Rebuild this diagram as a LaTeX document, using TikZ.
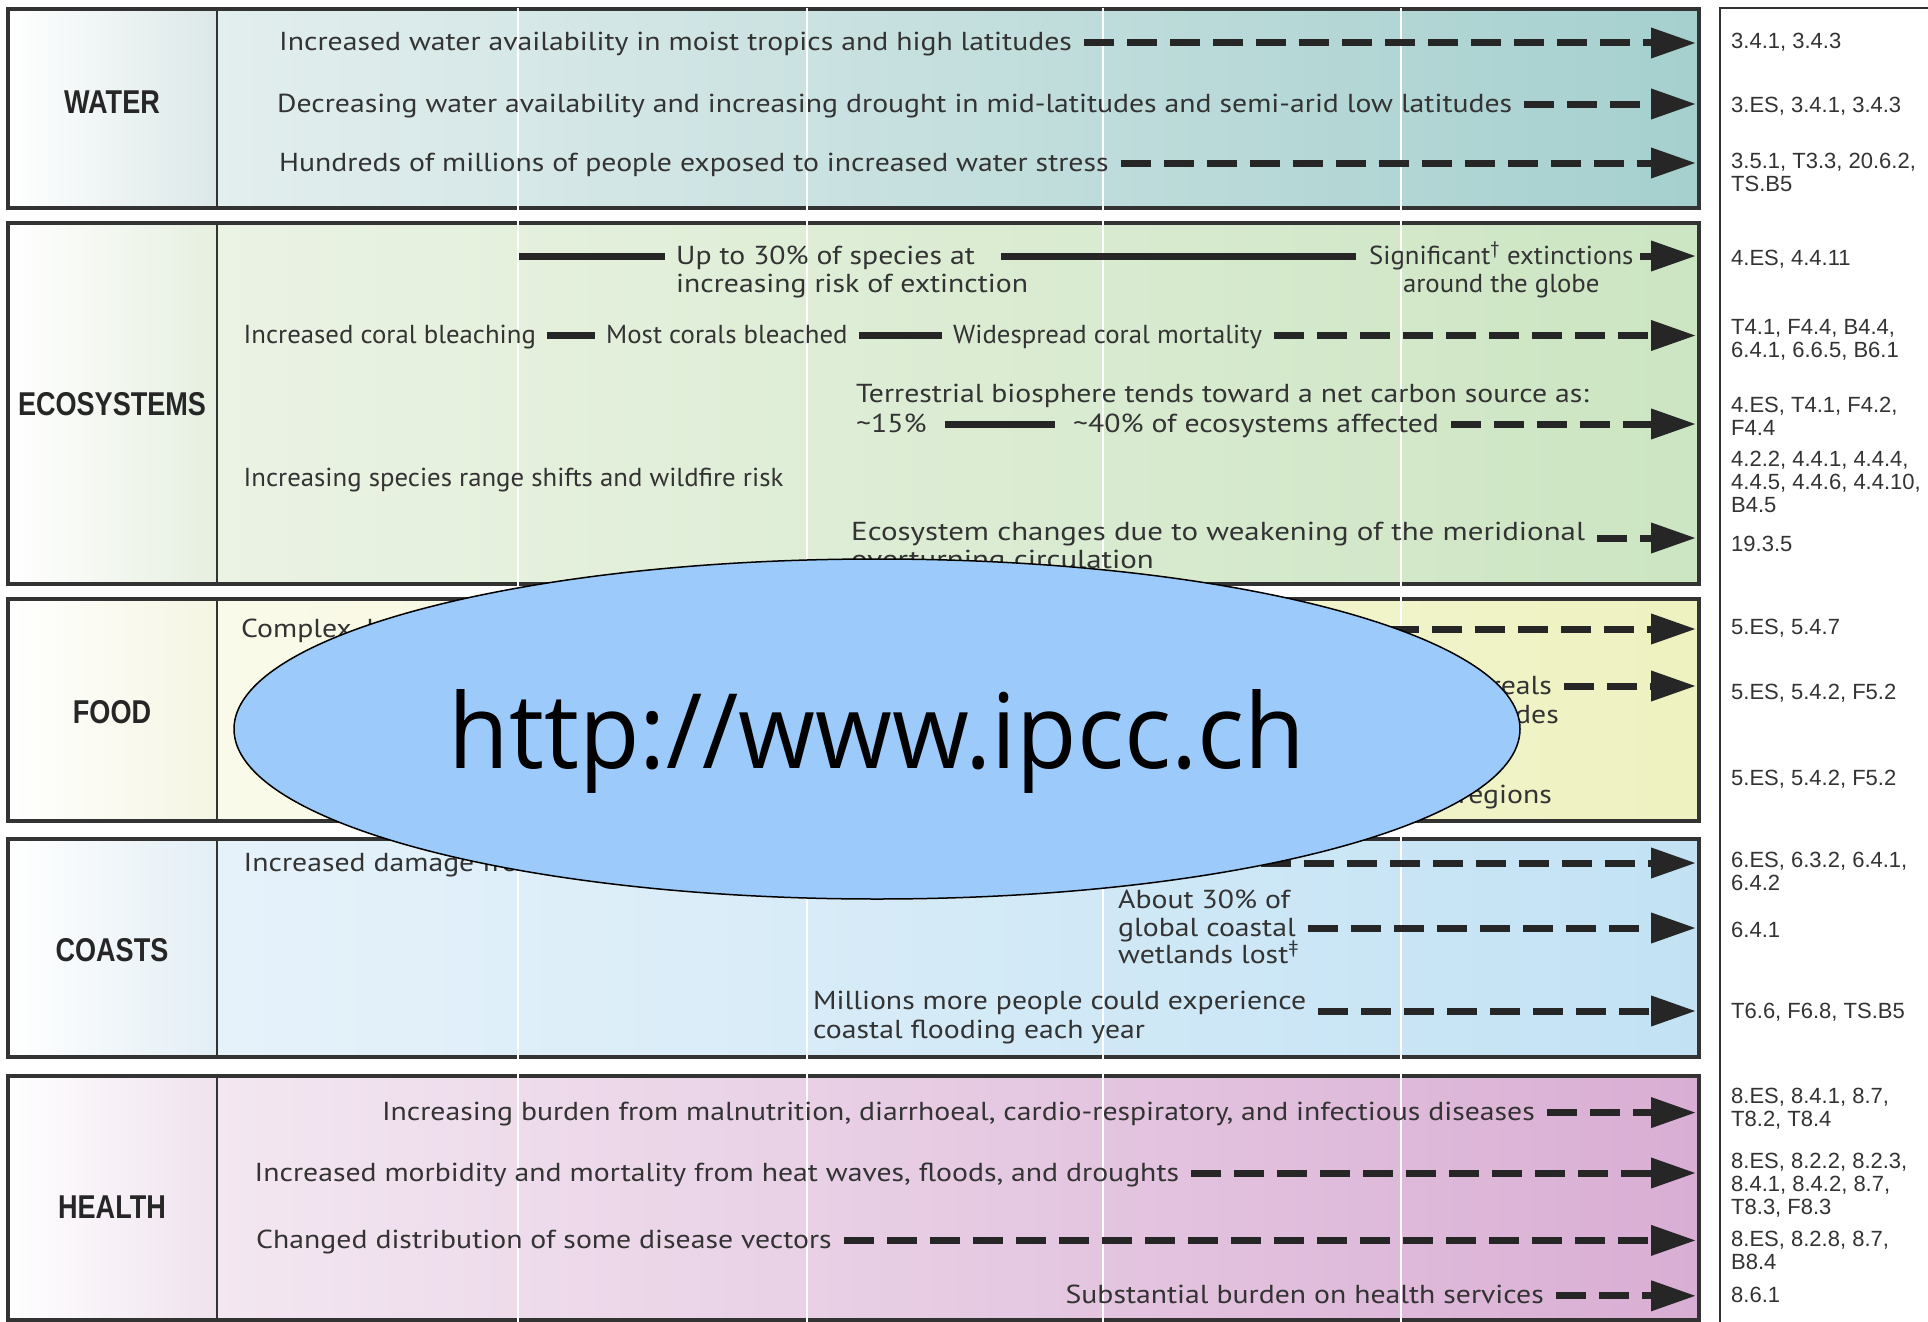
\documentclass[tikz,border=0pt]{standalone}
\usepackage{fontspec}
\usetikzlibrary{arrows.meta,positioning,shapes.geometric}
\newfontfamily\bodyfont[FakeStretch=1.144]{PT Sans}
\newfontfamily\condfont[FakeStretch=1.03]{PT Sans}
\newfontfamily\reffont{Liberation Sans}
\newfontfamily\labfont[FakeStretch=0.82]{Liberation Sans}
\newfontfamily\urlfont[FakeStretch=0.95]{Open Sans}

\begin{document}
\begin{tikzpicture}[x=1pt,y=-1pt,
  txt/.style={font=\bodyfont\fontsize{26}{29}\selectfont, text=black!80, inner sep=0pt, text height=21pt, text depth=5pt, anchor=west},
  ctxt/.style={txt, font=\condfont\fontsize{26}{29}\selectfont},
  reftxt/.style={font=\reffont\fontsize{22}{23}\selectfont, text=black!80, inner sep=0pt, anchor=north west, align=left},
  rowlab/.style={font=\labfont\bfseries\fontsize{33}{33}\selectfont, text=black!85, inner sep=0pt},
  dashto/.style={line width=7pt, draw=black!85, dash pattern=on 30pt off 13pt, shorten <=12pt, -{Triangle[length=45pt,width=29pt]}},
  solidto/.style={line width=7pt, draw=black!85, shorten <=11pt, shorten >=11pt},
  rowbox/.style={line width=3.5pt, draw=black!80},
  gridline/.style={line width=2.5pt, white},
  urlbox/.style={ellipse, draw=black, line width=1.5pt, fill=urlblue, minimum width=1286pt, minimum height=340pt, inner sep=0pt},
  urltxt/.style={font=\urlfont\fontsize{104}{104}\selectfont, inner sep=0pt, anchor=base},
]
\definecolor{watLab}{HTML}{DCE8E8}
\definecolor{watL}{HTML}{E3EEEE}
\definecolor{watR}{HTML}{A5D0CE}
\definecolor{ecoLab}{HTML}{E6EFE0}
\definecolor{ecoL}{HTML}{EBF3E4}
\definecolor{ecoR}{HTML}{CCE5C2}
\definecolor{foodLab}{HTML}{F5F5E3}
\definecolor{foodL}{HTML}{FAFAEA}
\definecolor{foodR}{HTML}{EEF2C0}
\definecolor{coastLab}{HTML}{E3EEF5}
\definecolor{coastL}{HTML}{E6F2FA}
\definecolor{coastR}{HTML}{C2E2F4}
\definecolor{healthLab}{HTML}{EFE2EE}
\definecolor{healthL}{HTML}{F3E7F1}
\definecolor{healthR}{HTML}{D9AED4}
\definecolor{urlblue}{HTML}{9CCBFB}

\useasboundingbox (0,0) rectangle (1928,1322);
\fill[white] (0,0) rectangle (1928,1322);

% rows: label box + shaded panel
\foreach \row/\top/\bot/\ly/\labc/\lc/\rc in {WATER/9/208/102/watLab/watL/watR, ECOSYSTEMS/223/584/404.5/ecoLab/ecoL/ecoR, FOOD/599/821/712/foodLab/foodL/foodR, COASTS/839/1057/950.5/coastLab/coastL/coastR, HEALTH/1076/1320/1207.5/healthLab/healthL/healthR}
  {
  \shade[left color=white, right color=\labc] (8,\top) rectangle (217,\bot);
  \shade[left color=\lc, right color=\rc] (217,\top) rectangle (1699,\bot);
  \draw[rowbox] (8,\top) rectangle (1699,\bot);
  \draw[line width=2.5pt, black!80] (217,\top) -- (217,\bot);
  \node[rowlab] (lab\row) at (112,\ly) {\row};
  }

% white time lines
\foreach \x in {518,807,1103,1401}
  \draw[gridline] (\x,8) -- (\x,1322);

% reference column
\draw[line width=2.5pt, black!80] (1928,8) -- (1720,8) -- (1720,1322);

\coordinate (tip) at (1696,0);

%%%% WATER
\node[txt] (w1) at (279,43) {Increased water availability in moist tropics and high latitudes};
\node[txt] (w2) at (277,104) {Decreasing water availability and increasing drought in mid-latitudes and semi-arid low latitudes};
\node[txt] (w3) at (279,163) {Hundreds of millions of people exposed to increased water stress};
\foreach \n in {w1,w2,w3}
  \draw[dashto] (\n.east) -- (\n.east -| tip);

%%%% ECOSYSTEMS
\coordinate (e1s) at (519,256);
\node[txt] (e1a) at (676,256) {Up to 30\% of species at};
\node[txt] (e1a2) at (676,284) {increasing risk of extinction};
\node[ctxt] (e1b) at (1369,256) {Significant\textsuperscript{\textdagger} extinctions};
\node[ctxt, anchor=center] (e1b2) at (e1b.center |- 0,284) {around the globe};
\draw[solidto, shorten <=0pt] (e1s) -- (e1a.west);
\draw[solidto, shorten <=26pt, shorten >=13pt] (e1a.east) -- (e1b.west);
\draw[dashto, shorten <=6pt] (e1b.east) -- (e1b.east -| tip);

\node[ctxt] (e2a) at (243.5,335.5) {Increased coral bleaching};
\node[ctxt] (e2b) at (606,335.5) {Most corals bleached};
\node[ctxt] (e2c) at (953,335.5) {Widespread coral mortality};
\draw[solidto] (e2a.east) -- (e2b.west);
\draw[solidto] (e2b.east) -- (e2c.west);
\draw[dashto] (e2c.east) -- (e2c.east -| tip);

\node[txt] (e3a) at (856,394.5) {Terrestrial biosphere tends toward a net carbon source as:};
\node[txt] (e3b) at (856,424) {\textasciitilde15\%};
\node[txt] (e3c) at (1073,424) {\textasciitilde40\% of ecosystems affected};
\draw[solidto, shorten <=18pt, shorten >=18pt] (e3b.east) -- (e3c.west);
\draw[dashto] (e3c.east) -- (e3c.east -| tip);

\node[ctxt] (e4) at (243.5,478) {Increasing species range shifts and wildfire risk};

\node[txt, xscale=1.04] (e5a) at (851,532) {Ecosystem changes due to weakening of the meridional};
\node[txt, xscale=1.04] (e5b) at (851,560.5) {overturning circulation};
\draw[dashto] ([yshift=-6pt]e5a.east) -- ([yshift=-6pt]e5a.east -| tip);

%%%% FOOD
\node[txt] (f1) at (241,629) {Complex, localised negative impacts on small holders, subsistence farmers and fishers};
\draw[dashto] (f1.east) -- (f1.east -| tip);
\node[txt, anchor=east] (f2a) at (1552,686) {Productivity of all cereals};
\node[txt, anchor=east] (f2b) at (1559,715) {decreases in low latitudes};
\draw[dashto] (f2a.east) -- (f2a.east -| tip);
\node[txt, anchor=east] (f3) at (1552,795) {decrease in some regions};

%%%% COASTS
\node[txt] (c1) at (243.5,863) {Increased damage from floods and storms};
\draw[dashto] (c1.east) -- (c1.east -| tip);
\node[txt] (c2a) at (1118,900) {About 30\% of};
\node[txt] (c2b) at (1118,928) {global coastal};
\node[txt] (c2c) at (1118,955) {wetlands lost\textsuperscript{\textdaggerdbl}};
\draw[dashto] (c2b.east) -- (c2b.east -| tip);
\node[txt] (c3a) at (813,1001) {Millions more people could experience};
\node[txt] (c3b) at (813,1030) {coastal flooding each year};
\draw[dashto] ([yshift=-10pt]c3a.east) -- ([yshift=-10pt]c3a.east -| tip);

%%%% HEALTH
\node[txt, anchor=east] (h1) at (1535,1112.6) {Increasing burden from malnutrition, diarrhoeal, cardio-respiratory, and infectious diseases};
\node[txt] (h2) at (254.5,1173) {Increased morbidity and mortality from heat waves, floods, and droughts};
\node[txt] (h3) at (256,1240.4) {Changed distribution of some disease vectors};
\node[txt, anchor=east] (h4) at (1544,1295.8) {Substantial burden on health services};
\foreach \n in {h1,h2,h3,h4}
  \draw[dashto] (\n.east) -- (\n.east -| tip);

%%%% references
\foreach \y/\t [count=\i] in {32.6/{3.4.1, 3.4.3}, 96.5/{3.ES, 3.4.1, 3.4.3}, 153/{3.5.1, T3.3, 20.6.2,\\TS.B5},
    250/{4.ES, 4.4.11}, 319/{T4.1, F4.4, B4.4,\\6.4.1, 6.6.5, B6.1}, 396.5/{4.ES, T4.1, F4.2,\\F4.4},
    450.6/{4.2.2, 4.4.1, 4.4.4,\\4.4.5, 4.4.6, 4.4.10,\\B4.5}, 535.5/{19.3.5},
    619/{5.ES, 5.4.7}, 684/{5.ES, 5.4.2, F5.2}, 770/{5.ES, 5.4.2, F5.2},
    851.5/{6.ES, 6.3.2, 6.4.1,\\6.4.2}, 921.6/{6.4.1}, 1002.7/{T6.6, F6.8, TS.B5},
    1087.6/{8.ES, 8.4.1, 8.7,\\T8.2, T8.4}, 1152.7/{8.ES, 8.2.2, 8.2.3,\\8.4.1, 8.4.2, 8.7,\\T8.3, F8.3},
    1231.4/{8.ES, 8.2.8, 8.7,\\B8.4}, 1286.8/{8.6.1}}
  \node[reftxt] (ref\i) at (1731,\y) {\t};

%%%% watermark
\node[urlbox] (url) at (877,729) {};
\node[urltxt] (urltext) at (877,768) {http://www.ipcc.ch};

\end{tikzpicture}
\end{document}
